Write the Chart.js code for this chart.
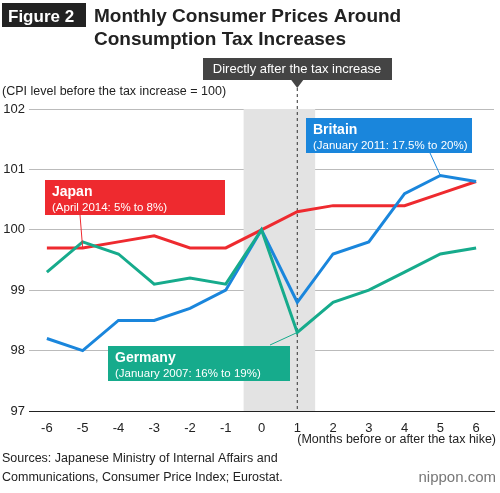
<!DOCTYPE html><html><head><style>body{margin:0;background:#fff}</style>
<script src="https://cdn.jsdelivr.net/npm/chart.js"></script></head><body>
<div style="width:500px;height:493px"><canvas id="c"></canvas></div>
<script>
const months=[-6,-5,-4,-3,-2,-1,0,1,2,3,4,5,6];
const japan=[99.7,99.7,99.8,99.9,99.7,99.7,100.0,100.3,100.4,100.4,100.4,100.6,100.8];
const britain=[98.2,98.0,98.5,98.5,98.7,99.0,100.0,98.8,99.6,99.8,100.6,100.9,100.8];
const germany=[99.3,99.8,99.6,99.1,99.2,99.1,100.0,98.3,98.8,99.0,99.3,99.6,99.7];
const RED='#ee2a2f',BLUE='#1a86dc',GREEN='#16ab8c';
const F='Liberation Sans, Arial, sans-serif';
function box(ctx,x,y,w,h,col,l1,l2){ctx.fillStyle=col;ctx.fillRect(x,y,w,h);ctx.fillStyle='#fff';ctx.textAlign='left';ctx.textBaseline='alphabetic';ctx.font='bold 14px '+F;ctx.fillText(l1,x+7,y+16);ctx.font='11.5px '+F;ctx.fillText(l2,x+7,y+31);}
const deco={id:'deco',
beforeDatasetsDraw(c){const {ctx,chartArea:a,scales:{x}}=c;ctx.save();ctx.fillStyle='#e3e3e3';ctx.fillRect(x.getPixelForValue(-0.5),a.top,x.getPixelForValue(1.5)-x.getPixelForValue(-0.5),a.bottom-a.top);
const dx=x.getPixelForValue(1);ctx.strokeStyle='#333';ctx.setLineDash([3,3]);ctx.lineWidth=1;ctx.beginPath();ctx.moveTo(dx,88);ctx.lineTo(dx,a.bottom);ctx.stroke();ctx.restore();},
afterDatasetsDraw(c){const {ctx,chartArea:a,scales:{x,y}}=c;ctx.save();
const dx=x.getPixelForValue(1);
ctx.fillStyle='#444';ctx.fillRect(203,58,189,22);ctx.beginPath();ctx.moveTo(dx-6,80);ctx.lineTo(dx+6,80);ctx.lineTo(dx,88);ctx.fill();
ctx.fillStyle='#fff';ctx.font='13px '+F;ctx.textAlign='center';ctx.textBaseline='middle';ctx.fillText('Directly after the tax increase',297,69);
ctx.lineWidth=1;
ctx.strokeStyle=RED;ctx.beginPath();ctx.moveTo(80,215);ctx.lineTo(x.getPixelForValue(-5),y.getPixelForValue(99.7));ctx.stroke();
ctx.strokeStyle=BLUE;ctx.beginPath();ctx.moveTo(430,153);ctx.lineTo(x.getPixelForValue(5),y.getPixelForValue(100.9));ctx.stroke();
ctx.strokeStyle=GREEN;ctx.beginPath();ctx.moveTo(270,345);ctx.lineTo(x.getPixelForValue(1),y.getPixelForValue(98.3));ctx.stroke();
box(ctx,45,180,180,35,RED,'Japan','(April 2014: 5% to 8%)');
box(ctx,306,118,166,35,BLUE,'Britain','(January 2011: 17.5% to 20%)');
box(ctx,108,346,182,35,GREEN,'Germany','(January 2007: 16% to 19%)');
ctx.fillStyle='#222';ctx.textAlign='left';ctx.textBaseline='alphabetic';ctx.font='12.5px '+F;
ctx.fillText('(CPI level before the tax increase = 100)',2,95);
ctx.textAlign='right';ctx.fillText('(Months before or after the tax hike)',496,443);
ctx.textAlign='left';ctx.fillText('Sources: Japanese Ministry of Internal Affairs and',2,462);ctx.fillText('Communications, Consumer Price Index; Eurostat.',2,481);
ctx.fillStyle='#777';ctx.font='15px '+F;ctx.textAlign='right';ctx.fillText('nippon.com',496,482);
ctx.fillStyle='#222';ctx.fillRect(2,3,84,24);ctx.fillStyle='#fff';ctx.font='bold 17px '+F;ctx.textAlign='left';ctx.fillText('Figure 2',8,22);
ctx.fillStyle='#222';ctx.font='bold 19px '+F;ctx.fillText('Monthly Consumer Prices Around',94,22);ctx.fillText('Consumption Tax Increases',94,45);
ctx.restore();}};
const mk=(d,col)=>({data:months.map((m,i)=>({x:m,y:d[i]})),borderColor:col,borderWidth:3,pointRadius:0,tension:0,fill:false});
new Chart(document.getElementById('c'),{type:'line',data:{datasets:[mk(germany,GREEN),mk(britain,BLUE),mk(japan,RED)]},
options:{responsive:true,maintainAspectRatio:false,animation:false,layout:{padding:{top:109,right:6,left:0,bottom:0}},
plugins:{legend:{display:false},tooltip:{enabled:false}},
scales:{x:{type:'linear',min:-6.5,max:6.5,afterFit:s=>{s.height=82},grid:{display:false},border:{color:'#222'},
ticks:{stepSize:1,padding:2,color:'#222',font:{family:F,size:13},callback:v=>Number.isInteger(v)?v:''},afterBuildTicks:s=>{s.ticks=months.map(v=>({value:v}))}},
y:{min:97,max:102,afterFit:s=>{s.width=29},grid:{color:'#bbb',drawTicks:false},border:{display:false},ticks:{stepSize:1,color:'#222',padding:4,font:{family:F,size:13}}}}},
plugins:[deco]});
</script></body></html>
